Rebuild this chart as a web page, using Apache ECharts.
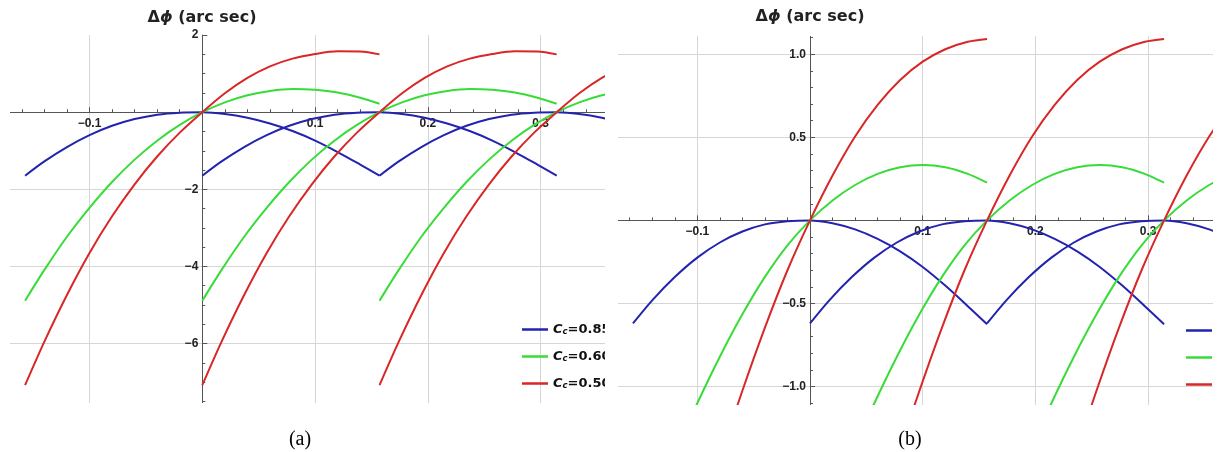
<!DOCTYPE html>
<html><head><meta charset="utf-8">
<script src="https://cdn.jsdelivr.net/npm/echarts@6/dist/echarts.min.js"></script>
<style>
html,body{margin:0;padding:0;background:#fff;width:1223px;height:452px;overflow:hidden;}
#base{position:absolute;left:0;top:0;width:1223px;height:452px;}
.clip{position:absolute;overflow:hidden;}
#clipA{left:10px;top:0;width:595px;height:403px;}
#chartA{position:absolute;left:-50px;top:0;width:740px;height:452px;}
#clipB{left:618px;top:36px;width:595px;height:369px;}
#chartB{position:absolute;left:-58px;top:-76px;width:740px;height:540px;}
</style></head>
<body>
<div id="base"></div>
<div id="clipA" class="clip"><div id="chartA"></div></div>
<div id="clipB" class="clip"><div id="chartB"></div></div>
<script>
// ---- data ----
const arcX = [-0.1571, -0.14, -0.12, -0.10, -0.08, -0.06, -0.04, -0.02, 0, 0.02, 0.04, 0.06, 0.08, 0.10, 0.12, 0.14, 0.1571];
const arcShifts = [0, 0.1571, 0.3142];
const names = ['Cc=0.85', 'Cc=0.60', 'Cc=0.50'];
const colors = ['#2323b0', '#38dc38', '#d92626'];

// panel (a)
const blueA  = [-1.647, -1.277, -0.905, -0.595, -0.353, -0.178, -0.064, -0.012, 0, -0.044, -0.143, -0.292, -0.489, -0.736, -1.033, -1.359, -1.647];
const greenA = [-4.89, -4.09, -3.23, -2.48, -1.81, -1.23, -0.74, -0.33, 0, 0.255, 0.44, 0.55, 0.60, 0.58, 0.51, 0.375, 0.22];
const redA   = [-7.08, -5.95, -4.74, -3.65, -2.70, -1.87, -1.15, -0.53, 0, 0.49, 0.89, 1.19, 1.39, 1.51, 1.58, 1.575, 1.50];
// panel (b)
const blueB  = [-0.62, -0.481, -0.341, -0.224, -0.133, -0.067, -0.024, -0.005, 0, -0.017, -0.054, -0.111, -0.186, -0.280, -0.392, -0.516, -0.625];
const greenB = [-2.00, -1.72, -1.40, -1.10, -0.82, -0.565, -0.34, -0.15, 0, 0.12, 0.213, 0.28, 0.32, 0.333, 0.32, 0.28, 0.227];
const redB   = [-3.20, -2.795, -2.325, -1.87, -1.435, -1.025, -0.645, -0.30, 0, 0.27, 0.505, 0.695, 0.845, 0.955, 1.03, 1.075, 1.092];

const titleText = 'Δϕ (arc sec)';
const captions = ['(a)', '(b)'];

// ---- helpers ----
const AX = '#555';
const LBL_FONT = '"Liberation Sans", Arial, sans-serif';
const WIDE_FONT = '"DejaVu Sans", sans-serif';
function signed(v, d) {
  v = Number(v);
  if (Math.abs(v) < 1e-9) return '';
  const s = Math.abs(v).toFixed(d);
  return v < 0 ? '\u2212' + s : s;
}
function valueAxis(o) {
  return {
    type: 'value', min: o.min, max: o.max, interval: o.interval,
    position: o.position, offset: o.offset,
    axisLine: { show: true, onZero: false, lineStyle: { color: AX, width: 1 } },
    axisTick: { show: true, inside: true, length: 5, lineStyle: { color: AX, width: 1 } },
    minorTick: { show: true, splitNumber: o.minor, length: 3, lineStyle: { color: AX, width: 1 } },
    splitLine: { show: true, showMaxLine: false, lineStyle: { color: '#d6d6d6', width: 1 } },
    axisLabel: { show: true, margin: o.margin, color: '#222', fontFamily: LBL_FONT, fontSize: 12, fontWeight: 'bold',
      formatter: function (v) { return signed(v, o.digits); } }
  };
}
function buildSeries(vals) {
  const out = [];
  vals.forEach((arr, ci) => {
    arcShifts.forEach(sh => {
      out.push({
        type: 'line', name: names[ci], showSymbol: false, symbol: 'none', smooth: 0.3,
        lineStyle: { color: colors[ci], width: 2 }, itemStyle: { color: colors[ci] },
        emphasis: { disabled: true },
        data: arcX.map((x, i) => [+(x + sh).toFixed(4), arr[i]])
      });
    });
  });
  return out;
}
function legendCfg(left, top) {
  return {
    orient: 'vertical', left: left, top: top, padding: 0, itemWidth: 26, itemHeight: 2.5, itemGap: 13.5, icon: 'rect',
    selectedMode: false, data: names,
    formatter: n => '{i|C}{s|c}{n|=' + n.split('=')[1] + '}',
    textStyle: {
      color: '#111', fontFamily: WIDE_FONT, fontSize: 13, fontWeight: 'bold',
      rich: {
        i: { fontFamily: WIDE_FONT, fontSize: 13, fontWeight: 'bold', fontStyle: 'italic', lineHeight: 14, color: '#111' },
        s: { fontFamily: WIDE_FONT, fontSize: 8.5, fontWeight: 'bold', fontStyle: 'italic', lineHeight: 5, verticalAlign: 'bottom', color: '#111' },
        n: { fontFamily: WIDE_FONT, fontSize: 13, fontWeight: 'bold', lineHeight: 14, color: '#111' }
      }
    }
  };
}

// ---- base: titles and captions ----
const base = echarts.init(document.getElementById('base'));
const titleRich = {
  d: { fontFamily: WIDE_FONT, fontSize: 16, fontWeight: 'bold', fill: '#222', color: '#222' },
  p: { fontFamily: WIDE_FONT, fontSize: 16, fontWeight: 'bold', fontStyle: 'italic', fill: '#222', color: '#222' },
  t: { fontFamily: WIDE_FONT, fontSize: 16, fontWeight: 'bold', fill: '#222', color: '#222' }
};
const richTitle = '{d|' + titleText.charAt(0) + '}{p|' + titleText.charAt(1) + '}{t|' + titleText.slice(2) + '}';
function tText(x, y) {
  return { type: 'text', x: x, y: y, style: { text: richTitle, rich: titleRich, align: 'center', verticalAlign: 'middle', textAlign: 'center', textVerticalAlign: 'middle' } };
}
function cText(x, y, s) {
  return { type: 'text', x: x, y: y, style: { text: s, fill: '#000', font: '20px "Liberation Serif", "Times New Roman", serif', align: 'center', verticalAlign: 'middle', textAlign: 'center', textVerticalAlign: 'middle' } };
}
base.setOption({
  animation: false,
  graphic: [tText(202, 18), tText(810, 17), cText(300, 440, captions[0]), cText(910, 440, captions[1])]
});

// ---- panel (a) ----
const chartA = echarts.init(document.getElementById('chartA'));
chartA.setOption({
  animation: false,
  grid: { left: 16.7, top: 35.1, width: 676.8, height: 385.5, outerBoundsMode: 'none' },
  xAxis: valueAxis({ min: -0.2, max: 0.4, interval: 0.1, minor: 5, margin: 5, digits: 1, position: 'bottom', offset: -308.4 }),
  yAxis: valueAxis({ min: -8, max: 2, interval: 2, minor: 4, margin: 4, digits: 0, position: 'left', offset: -225.6 }),
  legend: legendCfg(562, 323),
  series: buildSeries([blueA, greenA, redA])
});

// ---- panel (b) ----
const chartB = echarts.init(document.getElementById('chartB'));
chartB.setOption({
  animation: false,
  grid: { left: 24.6, top: 11.1, width: 676.2, height: 498.6, outerBoundsMode: 'none' },
  xAxis: valueAxis({ min: -0.2, max: 0.4, interval: 0.1, minor: 5, margin: 5, digits: 1, position: 'bottom', offset: -249.3 }),
  yAxis: valueAxis({ min: -1.5, max: 1.5, interval: 0.5, minor: 5, margin: 4, digits: 1, position: 'left', offset: -225.4 }),
  legend: legendCfg(626, 364),
  series: buildSeries([blueB, greenB, redB])
});
</script>
</body></html>
